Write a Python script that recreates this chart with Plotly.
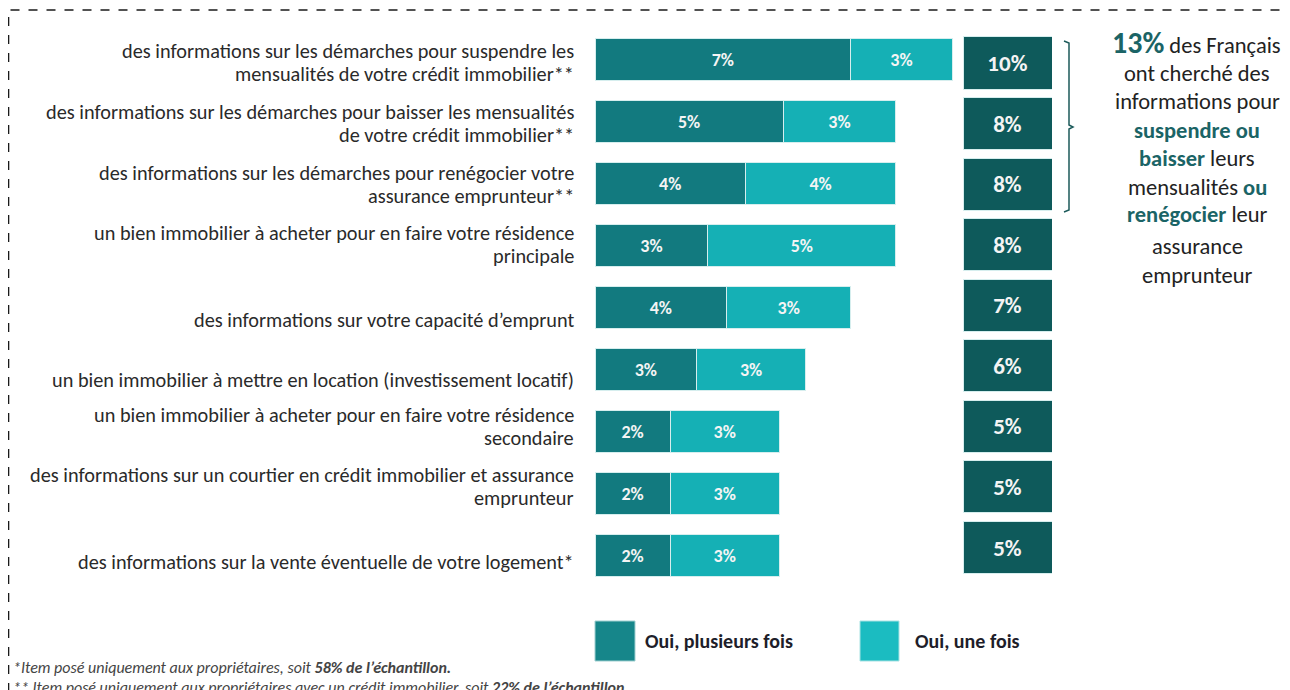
import plotly.graph_objects as go

# ---------------- data ----------------
categories = [
    "des informations sur les démarches pour suspendre les<br>mensualités de votre crédit immobilier**",
    "des informations sur les démarches pour baisser les mensualités<br>de votre crédit immobilier**",
    "des informations sur les démarches pour renégocier votre<br>assurance emprunteur**",
    "un bien immobilier à acheter pour en faire votre résidence<br>principale",
    "des informations sur votre capacité d’emprunt",
    "un bien immobilier à mettre en location (investissement locatif)",
    "un bien immobilier à acheter pour en faire votre résidence<br>secondaire",
    "des informations sur un courtier en crédit immobilier et assurance<br>emprunteur",
    "des informations sur la vente éventuelle de votre logement*",
]
plusieurs_fois = [6.8, 5.0, 4.0, 3.0, 3.5, 2.7, 2.0, 2.0, 2.0]
une_fois = [2.7, 3.0, 4.0, 5.0, 3.3, 2.9, 2.9, 2.9, 2.9]
plusieurs_labels = ["7%", "5%", "4%", "3%", "4%", "3%", "2%", "2%", "2%"]
une_labels = ["3%", "3%", "4%", "5%", "3%", "3%", "3%", "3%", "3%"]
total_labels = ["10%", "8%", "8%", "8%", "7%", "6%", "5%", "5%", "5%"]
box_fill = [1] * len(categories)

series_names = ["Oui, plusieurs fois", "Oui, une fois"]

# page has an 8px body margin: the figure occupies 8..1290 x 8..690 of the window
OFF = 8
W, H = 1290 - OFF, 690 - OFF
FONT = "Carlito, Lato, sans-serif"
DARK = "#127a7f"
LIGHT = "#15b0b5"
BOX = "#0e5a5b"
TEAL_TXT = "#1b6466"


def px(x):
    return (x - OFF) / W


def py(y):
    return 1 - (y - OFF) / H


idx = list(range(len(categories)))

fig = go.Figure()
fig.add_trace(go.Bar(
    y=idx, x=plusieurs_fois, orientation="h", name=series_names[0],
    marker=dict(color=DARK, line=dict(color="#d6eeee", width=1)),
    text=plusieurs_labels, textposition="inside", insidetextanchor="middle",
    textfont=dict(family=FONT, size=18, color="#f4f4f4", weight="bold"),
    width=0.69, xaxis="x", yaxis="y", hoverinfo="skip",
))
fig.add_trace(go.Bar(
    y=idx, x=une_fois, orientation="h", name=series_names[1],
    marker=dict(color=LIGHT, line=dict(color="#d6eeee", width=1)),
    text=une_labels, textposition="inside", insidetextanchor="middle",
    textfont=dict(family=FONT, size=18, color="#f4f4f4", weight="bold"),
    width=0.69, xaxis="x", yaxis="y", hoverinfo="skip",
))
fig.add_trace(go.Bar(
    y=idx, x=box_fill, orientation="h", showlegend=False,
    marker=dict(color=BOX, line=dict(color="#d6eeee", width=1)),
    text=total_labels, textposition="inside", insidetextanchor="middle",
    textfont=dict(family=FONT, size=23, color="#f4f4f4", weight="bold"),
    width=0.86, xaxis="x2", yaxis="y2", hoverinfo="skip",
))

annotations = []
# category labels (one annotation per line for exact line spacing)
for i, c in enumerate(categories):
    lines = c.split("<br>")
    shifts = [11.5, -11.5] if len(lines) == 2 else [-14.5]
    for ln, sh in zip(lines, shifts):
        annotations.append(dict(
            x=px(576), xref="paper", y=i, yref="y2", xanchor="right", yanchor="middle",
            text=ln, align="right", showarrow=False, yshift=sh,
            font=dict(family=FONT, size=20.3, color="#2a2a2a"),
        ))

# right-hand text
right_lines = [
    f"<span style='font-size:30px;color:{TEAL_TXT}'><b>13%</b></span> des Français",
    "ont cherché des",
    "informations pour",
    f"<b style='color:{TEAL_TXT}'>suspendre ou</b>",
    f"<b style='color:{TEAL_TXT}'>baisser</b> leurs",
    f"mensualités <b style='color:{TEAL_TXT}'>ou</b>",
    f"<b style='color:{TEAL_TXT}'>renégocier</b> leur",
    "assurance",
    "emprunteur",
]
right_y = [43, 73, 102, 130, 158, 187, 215, 246, 275]
right_x = [1196, 1197, 1197, 1197, 1197, 1197, 1197, 1197, 1197]
for t, yy, xx in zip(right_lines, right_y, right_x):
    annotations.append(dict(
        x=px(xx), y=py(yy), xref="paper", yref="paper",
        xanchor="center", yanchor="middle", text=t, showarrow=False,
        font=dict(family=FONT, size=22.5, color="#222222"),
    ))

# legend
annotations.append(dict(x=px(643), y=py(641), xref="paper", yref="paper", xanchor="left",
                        yanchor="middle", text=f"<b>{series_names[0]}</b>", showarrow=False,
                        font=dict(family=FONT, size=20, color="#1e1e2a")))
annotations.append(dict(x=px(913), y=py(641), xref="paper", yref="paper", xanchor="left",
                        yanchor="middle", text=f"<b>{series_names[1]}</b>", showarrow=False,
                        font=dict(family=FONT, size=20, color="#1e1e2a")))

# footnotes
annotations.append(dict(x=px(11), y=py(667), xref="paper", yref="paper", xanchor="left",
                        yanchor="middle", showarrow=False,
                        text="<i>*Item posé uniquement aux propriétaires, soit <b>58% de l’échantillon.</b></i>",
                        font=dict(family=FONT, size=16, color="#444444")))
annotations.append(dict(x=px(11), y=py(687), xref="paper", yref="paper", xanchor="left",
                        yanchor="middle", showarrow=False,
                        text="<i>** Item posé uniquement aux propriétaires avec un crédit immobilier, soit <b>22% de l’échantillon</b></i>",
                        font=dict(family=FONT, size=16, color="#444444")))

shapes = [
    # dashed frame
    dict(type="path", xref="paper", yref="paper",
         path=f"M {px(8.5)} {py(692)} L {px(8.5)} {py(10)} L {px(1292)} {py(10)}",
         line=dict(color="#1a1a1a", width=1.6, dash="dash")),
    # bracket
    dict(type="path", xref="paper", yref="paper",
         path=(f"M {px(1064)} {py(41)} L {px(1069)} {py(43)} L {px(1069)} {py(125)} "
               f"L {px(1073)} {py(127)} L {px(1069)} {py(129)} L {px(1069)} {py(210)} L {px(1064)} {py(212)}"),
         line=dict(color="#1c5a5a", width=1.5)),
    # legend squares
    dict(type="rect", xref="paper", yref="paper", x0=px(595), x1=px(635), y0=py(661), y1=py(621),
         fillcolor="#16868a", line=dict(color="#9fcfd0", width=1)),
    dict(type="rect", xref="paper", yref="paper", x0=px(860), x1=px(899), y0=py(661), y1=py(621),
         fillcolor="#1bbcc1", line=dict(color="#a8e2e3", width=1)),
]

fig.update_layout(
    width=W, height=H, barmode="stack", showlegend=False,
    paper_bgcolor="white", plot_bgcolor="rgba(0,0,0,0)",
    margin=dict(l=0, r=0, t=0, b=0),
    xaxis=dict(domain=[px(595), px(595 + 12 * 37.6)], range=[0, 12], visible=False, fixedrange=True),
    yaxis=dict(domain=[py(586.5), py(28.5)], range=[8.5, -0.5], visible=False, fixedrange=True),
    xaxis2=dict(domain=[px(963), px(1052)], range=[0, 1], visible=False, anchor="y2"),
    yaxis2=dict(domain=[py(577.8), py(32.7)], range=[8.5, -0.5], visible=False, anchor="x2"),
    annotations=annotations, shapes=shapes,
)

fig.write_html("out.html")
